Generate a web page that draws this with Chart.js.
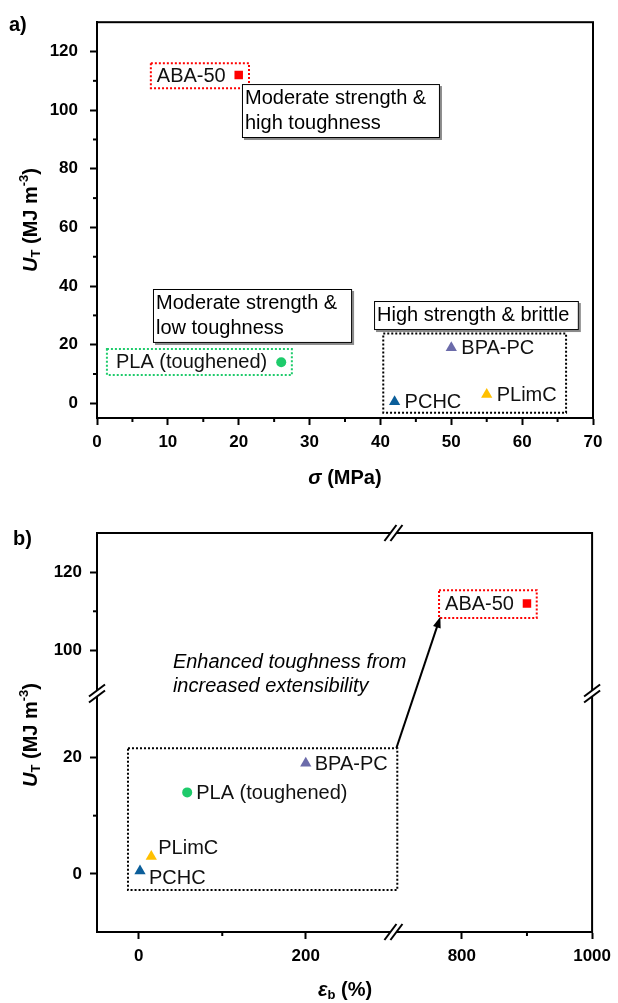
<!DOCTYPE html>
<html>
<head>
<meta charset="utf-8">
<script src="https://cdn.jsdelivr.net/npm/chart.js@4.4.1/dist/chart.umd.min.js"></script>
<style>
  body { margin: 0; background: #fff; }
  canvas { display: block; }
</style>
</head>
<body>
<canvas id="chartA" width="618" height="500"></canvas>
<canvas id="chartB" width="618" height="503"></canvas>
<script>
const materials = ["ABA-50", "PLA (toughened)", "BPA-PC", "PCHC", "PLimC"];
const strength = [20, 26, 50, 42, 55];        // sigma (MPa)
const elongation = [900, 58, 200, 1.5, 15];   // eps_b (%)
const toughness = [112, 14, 19, 0.5, 3];      // U_T (MJ m^-3)

const colors = ["#ff0000", "#1ecb6b", "#6b6baa", "#0b5e9a", "#ffc000"];
const shapes = ["rect", "circle", "triangle", "triangle", "triangle"];
const sizes = [6, 5, 6.5, 6.5, 6.5];

const aXTicks = [0, 10, 20, 30, 40, 50, 60, 70];
const aXMinor = [5, 15, 25, 35, 45, 55, 65];
const aYTicks = [0, 20, 40, 60, 80, 100, 120];
const aYMinor = [10, 30, 50, 70, 90, 110];

const bXTicksLow = [0, 200], bXMinorLow = [100];
const bXTicksHigh = [800, 1000], bXMinorHigh = [900];
const bYTicksLow = [0, 20], bYMinorLow = [10];
const bYTicksHigh = [100, 120], bYMinorHigh = [110];

const FONT = '"Liberation Sans", Arial, sans-serif';

function axis(o) {
  return {
    type: "linear",
    position: o.position,
    min: o.min,
    max: o.max,
    stack: o.stack,
    stackWeight: o.weight,
    afterBuildTicks: s => { s.ticks = o.ticks.map(v => ({ value: v })); },
    afterFit: s => {
      if (o.position === "left") s.width = o.size; else s.height = o.size;
    },
    border: { display: true, color: "#000", width: 2 },
    grid: { drawOnChartArea: false, drawTicks: true, tickLength: 7, tickWidth: 2, tickColor: "#000" },
    ticks: {
      autoSkip: false, maxRotation: 0, padding: o.padding, color: "#000",
      callback: v => String(v),
      font: { family: FONT, size: 17, weight: "bold" }
    }
  };
}

function datasets(xs, ids) {
  return materials.map((m, i) => Object.assign({
    label: m,
    data: [{ x: xs[i], y: toughness[i] }],
    pointStyle: shapes[i],
    pointRadius: sizes[i],
    pointHoverRadius: sizes[i],
    backgroundColor: colors[i],
    borderColor: colors[i],
    borderWidth: 0,
    showLine: false
  }, ids(i)));
}

// rich text: parts drawn one after another, centred on (x, y)
function rich(ctx, parts, x, y) {
  let w = 0;
  parts.forEach(p => { ctx.font = p.f; p.w = ctx.measureText(p.t).width; w += p.w; });
  let cx = x - w / 2;
  ctx.textAlign = "left";
  ctx.textBaseline = "middle";
  ctx.fillStyle = "#000";
  parts.forEach(p => { ctx.font = p.f; ctx.fillText(p.t, cx, y + (p.dy || 0)); cx += p.w; });
}

function breakMark(ctx, cx, cy, vertical) {
  const lines = [-3, 3].map(o => vertical
    ? [cx - 8, cy + 6 + o, cx + 8, cy - 6 + o]
    : [cx - 6 + o, cy + 8, cx + 6 + o, cy - 8]);
  ctx.save();
  ctx.fillStyle = "#fff";
  ctx.beginPath();
  ctx.moveTo(lines[0][0], lines[0][1]);
  ctx.lineTo(lines[0][2], lines[0][3]);
  ctx.lineTo(lines[1][2], lines[1][3]);
  ctx.lineTo(lines[1][0], lines[1][1]);
  ctx.closePath();
  ctx.fill();
  ctx.strokeStyle = "#000";
  ctx.lineWidth = 2;
  lines.forEach(l => { ctx.beginPath(); ctx.moveTo(l[0], l[1]); ctx.lineTo(l[2], l[3]); ctx.stroke(); });
  ctx.restore();
}

function makeExtras(cfg) {
  const P = (chart, id, v) => chart.scales[id].getPixelForValue(v);
  return {
    id: "extras",
    beforeDatasetsDraw(chart) {
      const ctx = chart.ctx;
      ctx.save();
      (cfg.notes || []).forEach(n => {
        const x0 = P(chart, n.xa, n.x0), y0 = P(chart, n.ya, n.y0);
        if (n.type === "dotted" || n.type === "box") {
          const x1 = P(chart, n.xa, n.x1), y1 = P(chart, n.ya, n.y1);
          if (n.type === "dotted") {
            ctx.strokeStyle = n.color; ctx.lineWidth = 2; ctx.setLineDash([2, 2]);
            ctx.strokeRect(x0, y0, x1 - x0, y1 - y0);
            ctx.setLineDash([]);
          } else {
            ctx.fillStyle = "#8a8a8a"; ctx.fillRect(x0 + 2, y0 + 2, x1 - x0, y1 - y0);
            ctx.fillStyle = "#fff"; ctx.fillRect(x0, y0, x1 - x0, y1 - y0);
            ctx.strokeStyle = "#000"; ctx.lineWidth = 1;
            ctx.strokeRect(x0 + 0.5, y0 + 0.5, x1 - x0 - 1, y1 - y0 - 1);
            ctx.fillStyle = "#000"; ctx.font = "20px " + FONT;
            ctx.textAlign = "left"; ctx.textBaseline = "middle";
            n.lines.forEach((t, i) => ctx.fillText(t, x0 + 3, y0 + 14.5 + i * 25));
          }
        } else if (n.type === "text") {
          ctx.fillStyle = "#000"; ctx.font = "italic 20px " + FONT;
          ctx.textAlign = "left"; ctx.textBaseline = "middle";
          ctx.fillText(n.text, x0, y0);
        } else if (n.type === "arrow") {
          const x1 = P(chart, n.xa2, n.x1), y1 = P(chart, n.ya2, n.y1);
          const a = Math.atan2(y1 - y0, x1 - x0);
          ctx.strokeStyle = "#000"; ctx.fillStyle = "#000"; ctx.lineWidth = 2;
          ctx.beginPath(); ctx.moveTo(x0, y0);
          ctx.lineTo(x1 - 9 * Math.cos(a), y1 - 9 * Math.sin(a)); ctx.stroke();
          ctx.beginPath(); ctx.moveTo(x1, y1);
          ctx.lineTo(x1 - 11 * Math.cos(a) + 4 * Math.sin(a), y1 - 11 * Math.sin(a) - 4 * Math.cos(a));
          ctx.lineTo(x1 - 11 * Math.cos(a) - 4 * Math.sin(a), y1 - 11 * Math.sin(a) + 4 * Math.cos(a));
          ctx.closePath(); ctx.fill();
        }
      });
      ctx.restore();
    },
    afterDatasetsDraw(chart) {
      const ctx = chart.ctx;
      ctx.save();
      ctx.fillStyle = "#111"; ctx.font = "20px " + FONT; ctx.textBaseline = "middle";
      chart.data.datasets.forEach((ds, i) => {
        const pt = chart.getDatasetMeta(i).data[0];
        const o = cfg.labels[i];
        ctx.textAlign = o[0];
        ctx.fillText(ds.label, pt.x + o[1], pt.y + o[2]);
      });
      ctx.restore();
    },
    afterDraw(chart) {
      const ctx = chart.ctx, a = chart.chartArea;
      ctx.save();
      // minor ticks
      ctx.strokeStyle = "#000"; ctx.lineWidth = 2;
      cfg.minor.forEach(m => {
        const s = chart.scales[m.id];
        m.values.forEach(v => {
          const p = s.getPixelForValue(v);
          ctx.beginPath();
          if (s.isHorizontal()) { ctx.moveTo(p, s.top); ctx.lineTo(p, s.top + 4); }
          else { ctx.moveTo(s.right, p); ctx.lineTo(s.right - 4, p); }
          ctx.stroke();
        });
      });
      // frame
      ctx.strokeRect(a.left, a.top, a.right - a.left, a.bottom - a.top);
      if (cfg.breaks) {
        const bx = chart.scales.xLow.right, by = chart.scales.yLow.top;
        breakMark(ctx, bx, a.top, false);
        breakMark(ctx, bx, a.bottom, false);
        breakMark(ctx, a.left, by, true);
        breakMark(ctx, a.right, by, true);
      }
      // titles
      rich(ctx, cfg.xTitle, cfg.xTitlePos[0], cfg.xTitlePos[1]);
      ctx.save();
      ctx.translate(cfg.yTitlePos[0], cfg.yTitlePos[1]);
      ctx.rotate(-Math.PI / 2);
      rich(ctx, cfg.yTitle, 0, 0);
      ctx.restore();
      ctx.font = "bold 20px " + FONT; ctx.textAlign = "left"; ctx.textBaseline = "middle";
      ctx.fillText(cfg.panel, cfg.panelPos[0], cfg.panelPos[1]);
      ctx.restore();
    }
  };
}

const B = "bold 20px " + FONT, BI = "italic bold 20px " + FONT, S = "bold 13px " + FONT;
const yTitle = [
  { t: "U", f: BI }, { t: "T", f: S, dy: 5 }, { t: " (MJ m", f: B },
  { t: "-3", f: S, dy: -7 }, { t: ")", f: B }
];

const baseOptions = {
  responsive: false,
  animation: false,
  events: [],
  plugins: { legend: { display: false }, tooltip: { enabled: false } }
};

new Chart(document.getElementById("chartA"), {
  type: "scatter",
  data: { datasets: datasets(strength, () => ({})) },
  options: Object.assign({}, baseOptions, {
    layout: { padding: { left: 0, top: 22, right: 25, bottom: 0 } },
    scales: {
      x: axis({ position: "bottom", min: 0, max: 70, ticks: aXTicks, size: 82, padding: 7 }),
      y: axis({ position: "left", min: -5, max: 130, ticks: aYTicks, size: 97, padding: 12 })
    }
  }),
  plugins: [makeExtras({
    minor: [{ id: "x", values: aXMinor }, { id: "y", values: aYMinor }],
    labels: [["right", -13, 2], ["right", -14, 0], ["left", 10, 1], ["left", 10, 1], ["left", 10, 1]],
    notes: [
      { type: "dotted", xa: "x", ya: "y", x0: 7.6, x1: 21.45, y0: 116.0, y1: 107.5, color: "#ff0000" },
      { type: "dotted", xa: "x", ya: "y", x0: 1.4, x1: 27.5, y0: 18.5, y1: 9.65, color: "#1ecb6b" },
      { type: "dotted", xa: "x", ya: "y", x0: 40.4, x1: 66.2, y0: 23.8, y1: -3.2, color: "#000" },
      { type: "box", xa: "x", ya: "y", x0: 20.46, x1: 48.4, y0: 108.9, y1: 90.5, lines: ["Moderate strength &", "high toughness"] },
      { type: "box", xa: "x", ya: "y", x0: 7.9, x1: 36.0, y0: 39.0, y1: 20.6, lines: ["Moderate strength &", "low toughness"] },
      { type: "box", xa: "x", ya: "y", x0: 39.1, x1: 68.0, y0: 34.9, y1: 25.0, lines: ["High strength & brittle"] }
    ],
    xTitle: [{ t: "\u03c3", f: BI }, { t: " (MPa)", f: B }],
    xTitlePos: [345, 478],
    yTitle: yTitle,
    yTitlePos: [31, 220],
    panel: "a)",
    panelPos: [9, 25]
  })]
});

new Chart(document.getElementById("chartB"), {
  type: "scatter",
  data: {
    datasets: datasets(elongation, i => ({
      xAxisID: elongation[i] > 305 ? "xHigh" : "xLow",
      yAxisID: toughness[i] > 31 ? "yHigh" : "yLow"
    }))
  },
  options: Object.assign({}, baseOptions, {
    layout: { padding: { left: 0, top: 33, right: 25, bottom: 0 } },
    scales: {
      xLow: axis({ position: "bottom", min: -50, max: 305, ticks: bXTicksLow, size: 71, padding: 7, stack: "x", weight: 297 }),
      xHigh: axis({ position: "bottom", min: 695, max: 1000, ticks: bXTicksHigh, size: 71, padding: 7, stack: "x", weight: 199 }),
      yLow: axis({ position: "left", min: -10, max: 31, ticks: bYTicksLow, size: 97, padding: 8, stack: "y", weight: 238.5 }),
      yHigh: axis({ position: "left", min: 89, max: 130, ticks: bYTicksHigh, size: 97, padding: 8, stack: "y", weight: 160.5 })
    }
  }),
  plugins: [makeExtras({
    minor: [
      { id: "xLow", values: bXMinorLow }, { id: "xHigh", values: bXMinorHigh },
      { id: "yLow", values: bYMinorLow }, { id: "yHigh", values: bYMinorHigh }
    ],
    labels: [["right", -13, 1], ["left", 9, 1], ["left", 9, 1], ["left", 9, 8], ["left", 7, -8]],
    notes: [
      { type: "dotted", xa: "xHigh", ya: "yHigh", x0: 765, x1: 915, y0: 115.4, y1: 108.3, color: "#ff0000" },
      { type: "dotted", xa: "xLow", ya: "yLow", x0: -12.9, x1: 309.6, y0: 21.6, y1: -2.8, color: "#000" },
      { type: "arrow", xa: "xLow", ya: "yLow", x0: 308.5, y0: 21.6, xa2: "xHigh", ya2: "yHigh", x1: 767, y1: 108.6 },
      { type: "text", xa: "xLow", ya: "yHigh", x0: 40.9, y0: 97.0, text: "Enhanced toughness from" },
      { type: "text", xa: "xLow", ya: "yHigh", x0: 40.9, y0: 90.7, text: "increased extensibility" }
    ],
    breaks: true,
    xTitle: [{ t: "\u03b5", f: BI }, { t: "b", f: S, dy: 5 }, { t: " (%)", f: B }],
    xTitlePos: [345, 490],
    yTitle: yTitle,
    yTitlePos: [31, 235],
    panel: "b)",
    panelPos: [13, 39]
  })]
});
</script>
</body>
</html>
